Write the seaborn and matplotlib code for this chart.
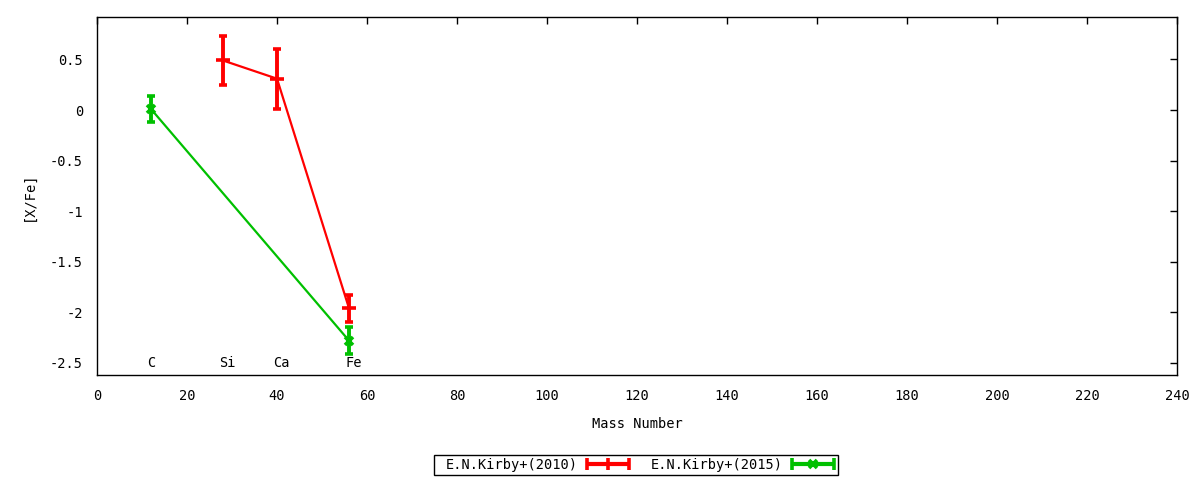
import matplotlib
matplotlib.use("Agg")
import matplotlib.pyplot as plt
import seaborn as sns
import pandas as pd
from matplotlib.lines import Line2D
from matplotlib.patches import Rectangle
from matplotlib.legend_handler import HandlerBase

# Data
elem_2010 = ["Si", "Ca", "Fe"]
mass_2010 = [28, 40, 56]
xfe_2010 = [0.49, 0.31, -1.96]
err_2010 = [0.245, 0.295, 0.135]

elem_2015 = ["C", "Fe"]
mass_2015 = [12, 56]
xfe_2015 = [0.01, -2.28]
err_2015 = [0.13, 0.13]

label_names = ["C", "Si", "Ca", "Fe"]
label_mass = [12, 28, 40, 56]

x_ticks = list(range(0, 241, 20))
y_ticks = [0.5, 0, -0.5, -1, -1.5, -2, -2.5]
y_tick_labels = ["0.5", "0", "-0.5", "-1", "-1.5", "-2", "-2.5"]
series_names = ["E.N.Kirby+(2010)", "E.N.Kirby+(2015)"]

sns.set_theme(style="white")
plt.rcParams['font.family'] = ['DejaVu Sans Mono']
FS = 9.8

fig = plt.figure(figsize=(12, 4.8), dpi=100)
ax = fig.add_axes([97/1200, 1-375/480, (1177-97)/1200, (375-17)/480])

red = "#ff0000"
green = "#00c000"

df10 = pd.DataFrame({"mass": mass_2010, "xfe": xfe_2010})
df15 = pd.DataFrame({"mass": mass_2015, "xfe": xfe_2015})

sns.lineplot(data=df10, x="mass", y="xfe", ax=ax, color=red, lw=1.6, sort=False)
sns.lineplot(data=df15, x="mass", y="xfe", ax=ax, color=green, lw=1.6, sort=False)

ax.errorbar(mass_2010, xfe_2010, yerr=err_2010, fmt='_', color=red, ms=10,
            mew=2.6, elinewidth=2.8, capsize=3, capthick=2.8)
ax.errorbar(mass_2015, xfe_2015, yerr=err_2015, fmt='x', color=green, ms=6,
            mew=2.6, elinewidth=2.8, capsize=3, capthick=2.8)

for name, m in zip(label_names, label_mass):
    ax.text(m - 0.8, -2.5, name, ha='left', va='center', fontsize=FS, color='black')

ax.set_xlim(0, 240)
ax.set_ylim(-2.62, 0.92)
ax.set_xticks(x_ticks)
ax.set_yticks(y_ticks)
ax.set_yticklabels(y_tick_labels)
ax.tick_params(direction='in', length=5, width=1, color='black', top=True, right=True,
               labelsize=FS, labelcolor='black', pad=10)
ax.tick_params(axis='x', pad=10)
for s in ax.spines.values():
    s.set_color('black')
    s.set_linewidth(1)

ax.set_xlabel("Mass Number", fontsize=FS, labelpad=10, color='black')
ax.set_ylabel("[X/Fe]", fontsize=FS, labelpad=10, color='black')


class ErrHandle:
    def __init__(self, color, marker, ms):
        self.color = color
        self.marker = marker
        self.ms = ms


class ErrHandler(HandlerBase):
    def create_artists(self, legend, orig, xdescent, ydescent, width, height, fontsize, trans):
        y = height / 2 - ydescent
        x0, x1 = -xdescent, width - xdescent
        c = orig.color
        main = Line2D([x0, x1], [y, y], color=c, lw=3, transform=trans, solid_capstyle='butt')
        caps = Line2D([x0, x1], [y, y], color=c, lw=0, marker='|', ms=8, mew=2.6,
                      transform=trans)
        mid = Line2D([(x0 + x1) / 2], [y], color=c, lw=0, marker=orig.marker,
                     ms=orig.ms, mew=2.6, transform=trans)
        return [main, caps, mid]


h1 = ErrHandle(red, '|', 8)
h2 = ErrHandle(green, 'x', 6)
leg = fig.legend([h1, h2], series_names, ncol=2,
                 handler_map={ErrHandle: ErrHandler()},
                 loc='center', bbox_to_anchor=(640/1200, 1-465/480),
                 frameon=False, markerfirst=False, fontsize=FS,
                 handlelength=3.1, borderpad=0.15, columnspacing=1.6, handletextpad=0.65,
                 borderaxespad=0)
for t in leg.get_texts():
    t.set_color('black')

fig.patches.append(Rectangle((434/1200, 1-475/480), (838-434)/1200, 20/480,
                             transform=fig.transFigure, fill=False, edgecolor='black',
                             lw=1, zorder=5))

fig.savefig("out.png", dpi=100)
